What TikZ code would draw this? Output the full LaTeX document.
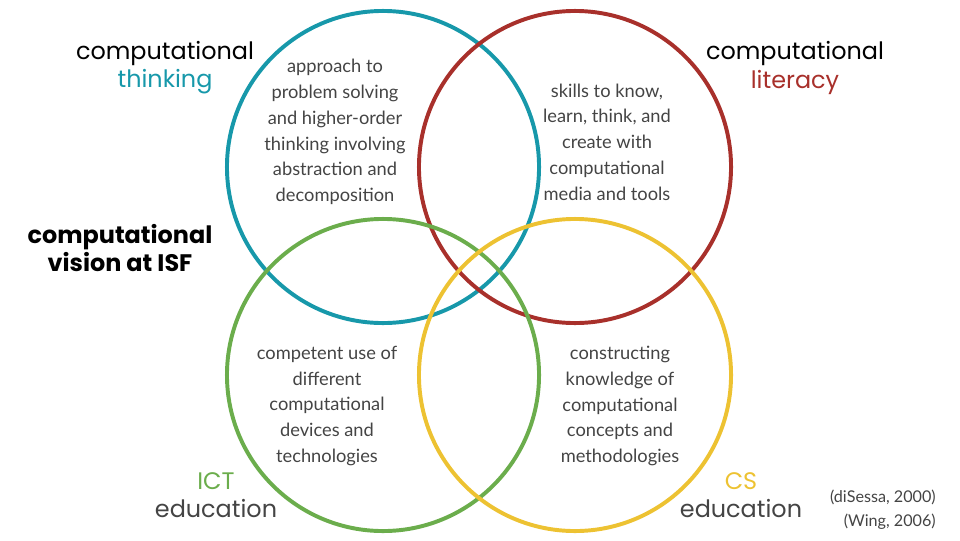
\documentclass[tikz,border=0pt]{standalone}
\usepackage{fontspec}
\usepackage{tikz}
\usetikzlibrary{positioning}
\newfontfamily\headfont{Poppins}
\newfontfamily\bodyfont{Lato}
\definecolor{ctteal}{HTML}{1798AA}
\definecolor{clred}{HTML}{A8302B}
\definecolor{ictgreen}{HTML}{6BAD4C}
\definecolor{csyellow}{HTML}{EDC232}
\definecolor{inkgray}{HTML}{444444}
\tikzset{
  % ringar
  ring/.style={circle,draw=#1,line width=2.8pt,minimum size=7.8cm,inner sep=0pt},
  % texter
  head/.style={align=center,inner sep=0pt,
               font=\headfont\fontsize{17}{20}\selectfont},
  bold/.style={align=center,inner sep=0pt,
               font=\headfont\bfseries\fontsize{17}{19.3}\selectfont},
  body/.style={align=center,inner sep=0pt,text=inkgray,
               font=\bodyfont\fontsize{13}{18.3}\selectfont},
  cite/.style={align=right,inner sep=0pt,text=inkgray,
               font=\bodyfont\fontsize{11.5}{17}\selectfont},
}
\begin{document}
\begin{tikzpicture}[x=0.025cm,y=-0.025cm]
\useasboundingbox (0,0) rectangle (960,540);
  \node[ring=ctteal] (ct) at (383,167) {};
  \node[ring=clred] (cl) at (575,167) {};
  \node[ring=ictgreen] (ict) at (383,375) {};
  \node[ring=csyellow] (cs) at (575,375) {};
  % rubriker
  \node[head] (cthead) at (165,68) {computational\\\textcolor{ctteal}{thinking}};
  \node[head] (clhead) at (795,68) {computational\\\textcolor{clred}{literacy}};
  \node[bold] (isf) at (120,248) {computational\\vision at ISF};
  \node[head,text=inkgray] (icthead) at (216,495) {\textcolor{ictgreen}{ICT}\\education};
  \node[head,text=inkgray] (cshead) at (741,495) {\textcolor{csyellow}{CS}\\education};
  % beskrivningar
  \node[body] (ctbody) at (335,132) {approach to\\problem solving\\and higher-order\\thinking involving\\abstraction and\\decomposition};
  \node[body] (clbody) at (607,142) {skills to know,\\learn, think, and\\create with\\computational\\media and tools};
  \node[body] (ictbody) at (327,406) {competent use of\\different\\computational\\devices and\\technologies};
  \node[body] (csbody) at (620,406) {constructing\\knowledge of\\computational\\concepts and\\methodologies};
  \node[cite,anchor=east] (refs) at (936,510) {(diSessa, 2000)\\(Wing, 2006)};
\end{tikzpicture}
\end{document}
